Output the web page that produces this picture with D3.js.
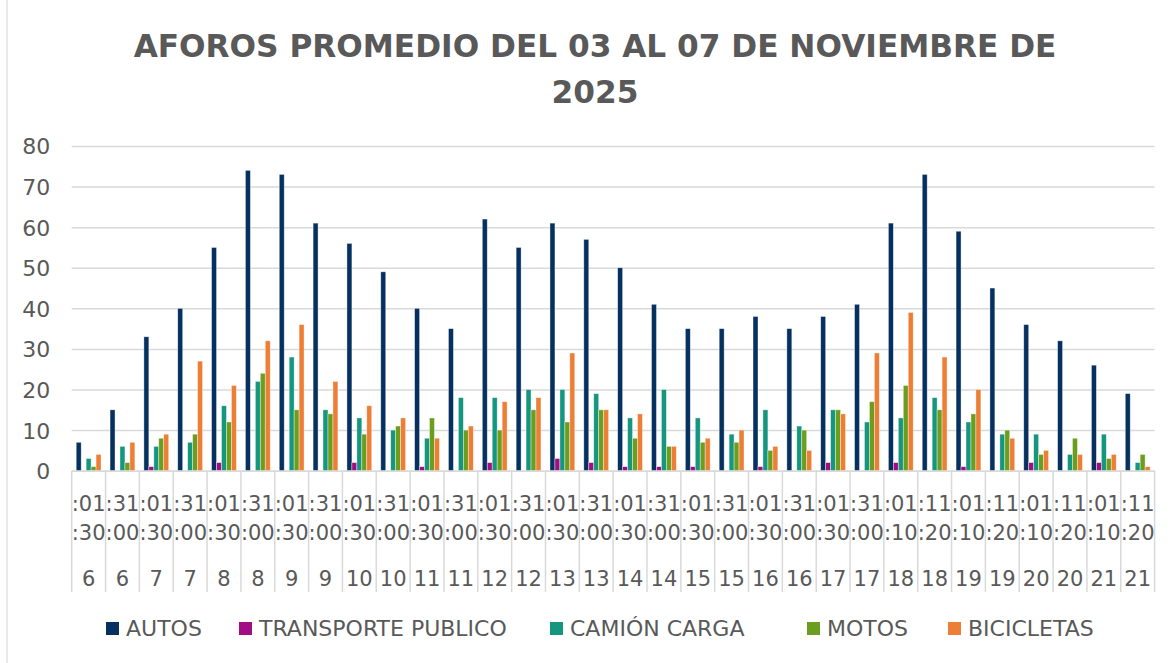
<!DOCTYPE html>
<html><head><meta charset="utf-8">
<script src="https://cdn.jsdelivr.net/npm/d3@7"></script>
<style>
body{margin:0;background:#fff;}
svg{display:block;font-family:"DejaVu Sans",sans-serif;}
</style></head>
<body>
<svg id="c" width="1174" height="663"></svg>
<script>
const hours = [6,6,7,7,8,8,9,9,10,10,11,11,12,12,13,13,14,14,15,15,16,16,17,17,18,18,19,19,20,20,21,21];
const rowTop = [":01",":31",":01",":31",":01",":31",":01",":31",":01",":31",":01",":31",":01",":31",":01",":31",":01",":31",":01",":31",":01",":31",":01",":31",":01",":11",":01",":11",":01",":11",":01",":11"];
const rowMid = [":30",":00",":30",":00",":30",":00",":30",":00",":30",":00",":30",":00",":30",":00",":30",":00",":30",":00",":30",":00",":30",":00",":30",":00",":10",":20",":10",":20",":10",":20",":10",":20"];
const seriesNames = ["AUTOS","TRANSPORTE PUBLICO","CAMIÓN CARGA","MOTOS","BICICLETAS"];
const autos      = [7,15,33,40,55,74,73,61,56,49,40,35,62,55,61,57,50,41,35,35,38,35,38,41,61,73,59,45,36,32,26,19];
const transporte = [0,0,1,0,2,0,0,0,2,0,1,0,2,0,3,2,1,1,1,0,1,0,2,0,2,0,1,0,2,0,2,0];
const camion     = [3,6,6,7,16,22,28,15,13,10,8,18,18,20,20,19,13,20,13,9,15,11,15,12,13,18,12,9,9,4,9,2];
const motos      = [1,2,8,9,12,24,15,14,9,11,13,10,10,15,12,15,8,6,7,7,5,10,15,17,21,15,14,10,4,8,3,4];
const bicicletas = [4,7,9,27,21,32,36,22,16,13,8,11,17,18,29,15,14,6,8,10,6,5,14,29,39,28,20,8,5,4,4,1];
const yTicks = [0,10,20,30,40,50,60,70,80];
const titleLines = ["AFOROS PROMEDIO DEL 03 AL 07 DE NOVIEMBRE DE","2025"];

const seriesValues = [autos, transporte, camion, motos, bicicletas];
const colors = ["#05305f","#a30d83","#14967f","#6b9e1f","#ec7e35"];
const legendX = [106,239,550,807,948];
const idx = d3.range(hours.length);

const svg = d3.select("#c");
const L = 71.7, R = 1154.6, T = 146, B = 470.7;
const grey = "#595959", lineC = "#d9d9d9";

svg.append("line").attr("x1",7).attr("x2",7).attr("y1",0).attr("y2",663)
  .attr("stroke","#e3e3e3").attr("stroke-width",1.5);

// title
svg.append("g").selectAll("text").data(titleLines).join("text")
  .attr("x",595).attr("y",(d,i)=>57+i*46)
  .attr("text-anchor","middle").attr("fill",grey)
  .attr("font-weight","bold").attr("font-size",31.2).text(d=>d);

const x = d3.scaleBand().domain(idx).range([L,R]).padding(0);
const xs = d3.scaleBand().domain(d3.range(seriesNames.length)).range([0,x.bandwidth()])
  .paddingInner(0).paddingOuter(0.91);
const y = d3.scaleLinear().domain([0,80]).range([B,T]);

// y axis + gridlines
const ya = svg.append("g").attr("transform",`translate(${L},0)`)
  .call(d3.axisLeft(y).tickValues(yTicks).tickSize(-(R-L)).tickPadding(21.5));
ya.select(".domain").remove();
ya.selectAll(".tick line").attr("stroke",lineC).attr("stroke-width",1.5);
ya.selectAll(".tick text").attr("fill",grey).attr("font-size",22)
  .attr("font-family","DejaVu Sans").attr("dy","0.36em");

// bars
const sg = svg.append("g").selectAll("g").data(seriesValues).join("g")
  .attr("fill",(d,i)=>colors[i]);
sg.each(function(vals,si){
  d3.select(this).selectAll("rect").data(idx).join("rect")
    .attr("x",i=>x(i)+xs(si))
    .attr("width",xs.bandwidth())
    .attr("y",i=>y(vals[i]))
    .attr("height",i=>y(0)-y(vals[i]))
    .attr("stroke","#ffffff").attr("stroke-opacity",0.55).attr("stroke-width",0.7);
});

// x axis
const xa = svg.append("g").attr("transform",`translate(0,${B})`)
  .call(d3.axisBottom(x).tickSize(0).tickFormat(()=>""));
xa.select(".domain").attr("stroke",lineC).attr("stroke-width",1.5);
const bounds = idx.map(i=>x(i)).concat([R]);
svg.append("g").selectAll("line").data(bounds).join("line")
  .attr("x1",d=>d).attr("x2",d=>d).attr("y1",B).attr("y2",592)
  .attr("stroke",lineC).attr("stroke-width",1.5);
const lab = svg.append("g").attr("fill",grey).attr("font-size",21).attr("text-anchor","middle");
const cx = i=>x(i)+x.bandwidth()/2;
lab.selectAll("text.r1").data(idx).join("text").attr("class","r1")
  .attr("x",cx).attr("y",510.5).text(i=>rowTop[i]);
lab.selectAll("text.r2").data(idx).join("text").attr("class","r2")
  .attr("x",cx).attr("y",539.5).text(i=>rowMid[i]);
lab.selectAll("text.r3").data(idx).join("text").attr("class","r3")
  .attr("x",cx).attr("y",585.5).text(i=>hours[i]);

// legend
const items = svg.append("g").selectAll("g").data(seriesNames).join("g")
  .attr("transform",(d,i)=>`translate(${legendX[i]},0)`);
items.append("rect").attr("width",13).attr("height",13).attr("y",622).attr("fill",(d,i)=>colors[i]);
items.append("text").attr("x",20).attr("y",635.5).attr("font-size",22).attr("fill",grey).text(d=>d);
</script>
</body></html>
